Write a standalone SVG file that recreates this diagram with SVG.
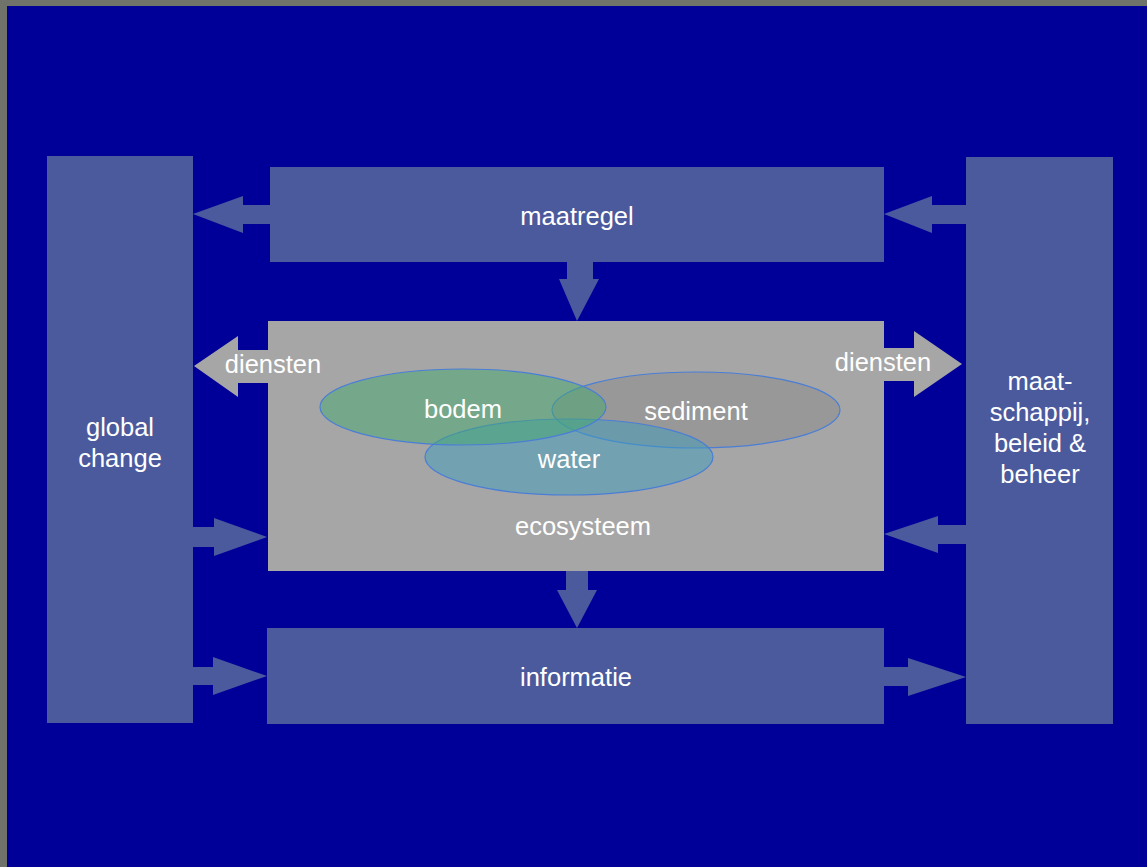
<svg xmlns="http://www.w3.org/2000/svg" width="1147" height="867" viewBox="0 0 1147 867">
<style>
.box{fill:#4B5A9D}
.arr{fill:#4B5A9D}
.garr{fill:#A6A6A6}
.t{font-family:"Liberation Sans",Arial,sans-serif;font-size:25.5px;fill:#FFFFFF;text-anchor:middle}
.ell{stroke:#4A7ED6;stroke-width:1.2}
</style>
<rect x="0" y="0" width="1147" height="867" fill="#6F7369"/>
<rect x="7" y="6" width="1140" height="861" fill="#000099"/>
<g id="connectors">
<polygon class="arr" points="270,205 243,205 243,196 193,214 243,233 243,224 270,224"/>
<polygon class="arr" points="966,205 932,205 932,196 884,214 932,233 932,224 966,224"/>
<polygon class="arr" points="567,262 593,262 593,279 599,279 577,321 559,279 567,279"/>
<polygon class="arr" points="566,571 588,571 588,590 597,590 577,628 557,590 566,590"/>
<polygon class="garr" points="268,350 238,350 238,336 194,366 238,397 238,383 268,383"/>
<polygon class="garr" points="884,348 914,348 914,331 962,364 914,397 914,381 884,381"/>
<polygon class="arr" points="193,527 214,527 214,518 267,537 214,556 214,547 193,547"/>
<polygon class="arr" points="193,667 213,667 213,657 267,676 213,695 213,685 193,685"/>
<polygon class="arr" points="966,525 938,525 938,516 884,534 938,553 938,544 966,544"/>
<polygon class="arr" points="884,667 908,667 908,658 966,677 908,696 908,686 884,686"/>
</g>
<g id="global-change">
<rect class="box" x="47" y="156" width="146" height="567"/>
<text class="t" x="120" y="436">global</text>
<text class="t" x="120" y="467">change</text>
</g>
<g id="maatschappij">
<rect class="box" x="966" y="157" width="147" height="567"/>
<text class="t" x="1040" y="390">maat-</text>
<text class="t" x="1040" y="421">schappij,</text>
<text class="t" x="1040" y="452">beleid &amp;</text>
<text class="t" x="1040" y="483">beheer</text>
</g>
<g id="maatregel">
<rect class="box" x="270" y="167" width="614" height="95"/>
<text class="t" x="577" y="225">maatregel</text>
</g>
<g id="ecosysteem">
<rect x="268" y="321" width="616" height="250" fill="#A6A6A6"/>
<text class="t" x="583" y="535">ecosysteem</text>
</g>
<g id="informatie">
<rect class="box" x="267" y="628" width="617" height="96"/>
<text class="t" x="576" y="686">informatie</text>
</g>
<g id="diensten-labels">
<text class="t" x="273" y="373">diensten</text>
<text class="t" x="883" y="371">diensten</text>
</g>
<g id="sediment">
<ellipse class="ell" cx="696" cy="410" rx="144" ry="38" fill="#8A8A8A" fill-opacity="0.5"/>
</g>
<g id="water">
<ellipse class="ell" cx="569" cy="457" rx="144" ry="38" fill="#3E9CBE" fill-opacity="0.5"/>
</g>
<g id="bodem">
<ellipse class="ell" cx="463" cy="407" rx="143" ry="38" fill="#44AA6E" fill-opacity="0.5"/>
</g>
<g id="ellipse-labels">
<text class="t" x="463" y="418">bodem</text>
<text class="t" x="696" y="420">sediment</text>
<text class="t" x="569" y="468">water</text>
</g>
</svg>
